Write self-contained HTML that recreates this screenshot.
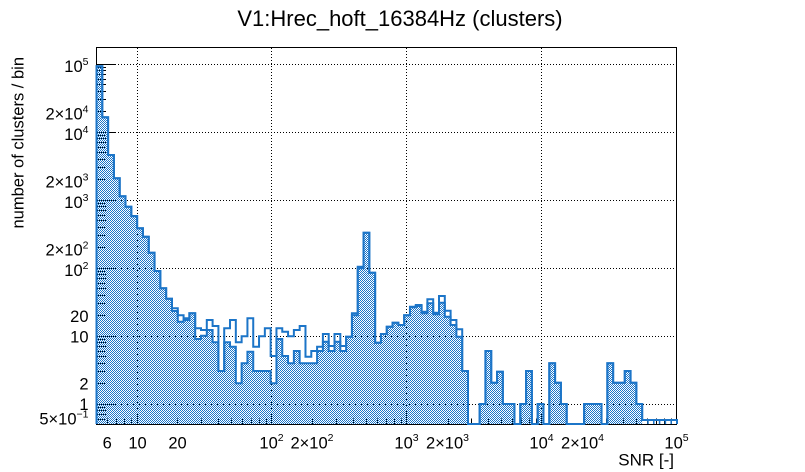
<!DOCTYPE html>
<html>
<head>
<meta charset="utf-8">
<style>
  html, body { margin: 0; padding: 0; background: #fff; }
  body { width: 805px; height: 472px; overflow: hidden; }
  svg { display: block; }
  text { font-family: "Liberation Sans", Arial, sans-serif; fill: #000; }
</style>
</head>
<body>
<svg width="805" height="472" viewBox="0 0 805 472" xmlns="http://www.w3.org/2000/svg">
  <defs>
    <pattern id="chk" x="0" y="0" width="2" height="2" patternUnits="userSpaceOnUse">
      <rect x="0" y="0" width="1" height="1" fill="#1c75c8"/>
      <rect x="1" y="1" width="1" height="1" fill="#1c75c8"/>
    </pattern>
    <clipPath id="fc">
      <path transform="translate(96.5,0) scale(5.805,1)" d="M0 424V66.3H1V117.3H2V155H3V178.3H4V196.3H5V206.7H6V216.3H7V228.3H8V236.7H9V252.7H10V271H11V288.3H12V298.7H13V311H14V321.7H15V320H16V313.3H17V339H18V335.7H19V330H20V342.3H21V371H22V342.3H23V346.7H24V383.3H25V363.3H26V351.7H27V371H30V383.3H31V339H32V356H33V363.3H34V351H35V363.3H38V351H39V341.7H40V351H41V341.7H42V351H43V336.7H44V315.3H45V268.3H46V232.7H47V272.7H48V342.7H49V334H50V326.7H51V322.7H52V325H53V315.3H54V307.3H55V306H56V313.3H57V303.3H58V314.3H59V302.7H60V316.7H61V325H62V336.7H63V371H64V424H66V404H67V351H68V382.7H69V371.7H70V404H72V424H73V404H74V371H75V424H76V404H77V424H78V363.3H79V382.7H80V404H81V424H84V404H87V424H88V363.3H89V382.7H91V371H92V382.7H93V404H94V424Z"/>
    </clipPath>
  </defs>

  <!-- Title -->
  <text x="400" y="26" font-size="22" text-anchor="middle">V1:Hrec_hoft_16384Hz (clusters)</text>

  <!-- Grid (dotted) -->
  <g stroke="#000" stroke-width="1" stroke-dasharray="1 2" fill="none">
    <path d="M137.5 48V424M271.5 48V424M406.5 48V424M541.5 48V424"/>
    <path d="M97 64.5H676M97 132.5H676M97 200.5H676M97 268.5H676M97 336.5H676M97 404.5H676"/>
  </g>

  <!-- Y ticks -->
  <g stroke="#000" stroke-width="1" fill="none">
    <path d="M96 64.5H115M96 132.5H115M96 200.5H115M96 268.5H115M96 336.5H115M96 404.5H115"/>
    <path d="M96 419.5H106M96 414.5H106M96 410.5H106M96 407.5H106
             M96 383.5H106M96 371.5H106M96 363.5H106M96 356.5H106M96 351.5H106M96 346.5H106M96 342.5H106M96 339.5H106
             M96 315.5H106M96 303.5H106M96 295.5H106M96 288.5H106M96 283.5H106M96 278.5H106M96 274.5H106M96 271.5H106
             M96 247.5H106M96 235.5H106M96 227.5H106M96 220.5H106M96 215.5H106M96 210.5H106M96 206.5H106M96 203.5H106
             M96 179.5H106M96 167.5H106M96 159.5H106M96 152.5H106M96 147.5H106M96 142.5H106M96 138.5H106M96 135.5H106
             M96 111.5H106M96 99.5H106M96 91.5H106M96 84.5H106M96 79.5H106M96 74.5H106M96 70.5H106M96 67.5H106"/>
    <!-- X ticks -->
    <path d="M137.5 424V413M271.5 424V413M406.5 424V413M541.5 424V413"/>
    <path d="M107.5 424V418.5M116.5 424V418.5M124.5 424V418.5M131.5 424V418.5
             M177.5 424V418.5M201.5 424V418.5M218.5 424V418.5M231.5 424V418.5M242.5 424V418.5M251.5 424V418.5M259.5 424V418.5M266.5 424V418.5
             M312.5 424V418.5M336.5 424V418.5M353.5 424V418.5M366.5 424V418.5M377.5 424V418.5M386.5 424V418.5M394.5 424V418.5M401.5 424V418.5
             M448.5 424V418.5M471.5 424V418.5M488.5 424V418.5M501.5 424V418.5M512.5 424V418.5M521.5 424V418.5M529.5 424V418.5M536.5 424V418.5
             M583.5 424V418.5M606.5 424V418.5M623.5 424V418.5M636.5 424V418.5M647.5 424V418.5M656.5 424V418.5M664.5 424V418.5M671.5 424V418.5"/>
  </g>

  <!-- Frame -->
  <rect x="96.5" y="47.5" width="580" height="377" fill="none" stroke="#000" stroke-width="1"/>

  <!-- Filled histogram -->
  <rect x="96" y="47" width="581" height="377" fill="url(#chk)" clip-path="url(#fc)" shape-rendering="crispEdges"/>

  <!-- Filled histogram outline -->
  <path transform="translate(96.5,0) scale(5.805,1)" vector-effect="non-scaling-stroke" fill="none" stroke="#1c75c8" stroke-width="2"
    d="M0 424V66.3H1V117.3H2V155H3V178.3H4V196.3H5V206.7H6V216.3H7V228.3H8V236.7H9V252.7H10V271H11V288.3H12V298.7H13V311H14V321.7H15V320H16V313.3H17V339H18V335.7H19V330H20V342.3H21V371H22V342.3H23V346.7H24V383.3H25V363.3H26V351.7H27V371H30V383.3H31V339H32V356H33V363.3H34V351H35V363.3H38V351H39V341.7H40V351H41V341.7H42V351H43V336.7H44V315.3H45V268.3H46V232.7H47V272.7H48V342.7H49V334H50V326.7H51V322.7H52V325H53V315.3H54V307.3H55V306H56V313.3H57V303.3H58V314.3H59V302.7H60V316.7H61V325H62V336.7H63V371H64V424H66V404H67V351H68V382.7H69V371.7H70V404H72V424H73V404H74V371H75V424H76V404H77V424H78V363.3H79V382.7H80V404H81V424H84V404H87V424H88V363.3H89V382.7H91V371H92V382.7H93V404H94V420H100V424"/>

  <!-- Outline-only histogram -->
  <path transform="translate(96.5,0) scale(5.805,1)" vector-effect="non-scaling-stroke" fill="none" stroke="#1c75c8" stroke-width="2"
    d="M0 424V66.3H1V117.3H2V155H3V178.3H4V196.3H5V206.7H6V216H7V228.3H8V236.7H9V252.7H10V271H11V288.3H12V298.7H13V308.3H14V315.3H15V318.3H16V313.3H17V328.3H18V330H19V320H20V326H21V371H22V328.3H23V320H24V342.3H25V336.3H26V318.3H27V346.7H28V336.3H29V328.3H30V356H31V328.3H32V331.7H33V336.3H34V330H35V326H36V356.7H37V351H38V346.7H39V334H40V346H41V334H42V346H43V336.7H44V313.3H45V266.7H46V232.7H47V272.7H48V342.7H49V334H50V326.7H51V322.7H52V325H53V315.3H54V306.7H55V305H56V311.7H57V299.3H58V312.7H59V296H60V310.7H61V320H62V329.3H63V371H64V424H66V404H67V351H68V382.7H69V371.7H70V404H72V424H73V404H74V371H75V424H76V404H77V424H78V363.3H79V382.7H80V404H81V424H84V404H87V424H88V363.3H89V382.7H91V371H92V382.7H93V404H94V420H100V424"/>

  <!-- tiny bins at the right end -->
  <path transform="translate(96.5,0) scale(5.805,1)" vector-effect="non-scaling-stroke" fill="none" stroke="#1c75c8" stroke-width="1.5"
    d="M95 420V424M96 420V424M97 420V424M98 420V424M99 420V424"/>

  <!-- Y axis labels -->
  <g font-size="16.5" text-anchor="end">
    <text x="88.5" y="72">10<tspan font-size="10.5" dy="-7">5</tspan></text>
    <text x="88.5" y="119.5">2×10<tspan font-size="10.5" dy="-7">4</tspan></text>
    <text x="88.5" y="140">10<tspan font-size="10.5" dy="-7">4</tspan></text>
    <text x="88.5" y="187.5">2×10<tspan font-size="10.5" dy="-7">3</tspan></text>
    <text x="88.5" y="208">10<tspan font-size="10.5" dy="-7">3</tspan></text>
    <text x="88.5" y="255.5">2×10<tspan font-size="10.5" dy="-7">2</tspan></text>
    <text x="88.5" y="276">10<tspan font-size="10.5" dy="-7">2</tspan></text>
    <text x="88.5" y="322">20</text>
    <text x="88.5" y="342.5">10</text>
    <text x="88.5" y="389.5">2</text>
    <text x="88.5" y="410">1</text>
    <text x="88.5" y="424.5">5×10<tspan font-size="10.5" dy="-7">−1</tspan></text>
  </g>

  <!-- X axis labels -->
  <g font-size="16.5" text-anchor="middle">
    <text x="107.2" y="448.5">6</text>
    <text x="137.5" y="448.5">10</text>
    <text x="177.5" y="448.5">20</text>
    <text x="271.5" y="448.5">10<tspan font-size="10.5" dy="-7.5">2</tspan></text>
    <text x="312" y="448.5">2×10<tspan font-size="10.5" dy="-7.5">2</tspan></text>
    <text x="406.5" y="448.5">10<tspan font-size="10.5" dy="-7.5">3</tspan></text>
    <text x="447.5" y="448.5">2×10<tspan font-size="10.5" dy="-7.5">3</tspan></text>
    <text x="541.5" y="448.5">10<tspan font-size="10.5" dy="-7.5">4</tspan></text>
    <text x="582.5" y="448.5">2×10<tspan font-size="10.5" dy="-7.5">4</tspan></text>
    <text x="676.5" y="448.5">10<tspan font-size="10.5" dy="-7.5">5</tspan></text>
  </g>

  <!-- Axis titles -->
  <text x="674" y="465.5" font-size="17" text-anchor="end">SNR [-]</text>
  <text transform="translate(23.3,57) rotate(-90)" font-size="16.5" text-anchor="end">number of clusters / bin</text>
</svg>
</body>
</html>
